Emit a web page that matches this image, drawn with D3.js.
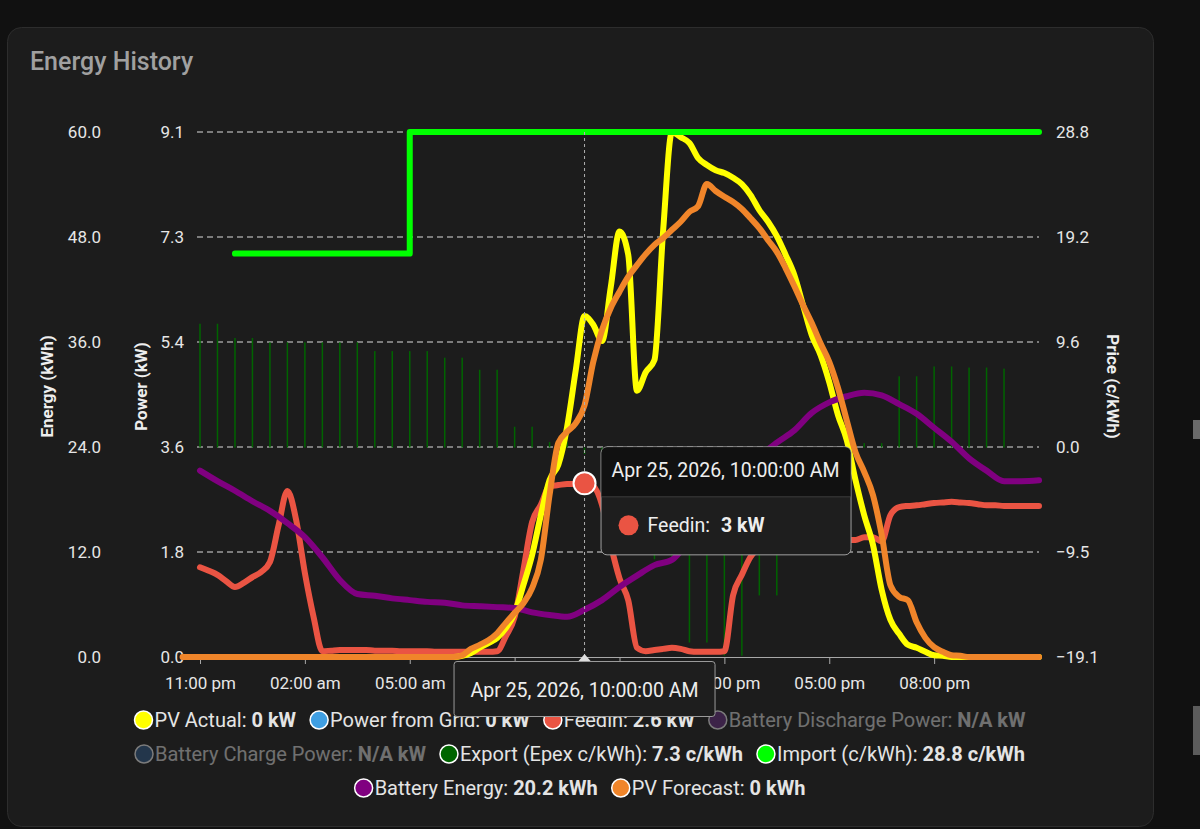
<!DOCTYPE html>
<html>
<head>
<meta charset="utf-8">
<script src="https://cdn.jsdelivr.net/npm/d3@7"></script>
<style>
  body { margin: 0; background: #111111; }
  text { font-family: Roboto, "Noto Sans", sans-serif; }
</style>
</head>
<body>
<svg width="1200" height="829"></svg>
<script>

/*Data. Hours are counted from midnight Apr 25 2026, so -1 is 11:00 pm the evening before.*/

var xTickHours = [-1, 2, 5, 8, 11, 14, 17, 20];

/*PV Actual (kW), every 15 minutes from 06:00 to 21:00*/
var pvActualStart = 6;
var pvActual = [0, 0, 0.02, 0.07, 0.16, 0.24, 0.33, 0.5, 0.76, 1.24, 1.76, 2.45, 3.06, 3.32, 3.97, 4.96,
  5.89, 5.74, 5.46, 6.39, 7.35, 6.95, 4.6, 4.92, 5.13, 7.38, 9.07, 8.98, 8.88, 8.62, 8.5, 8.41,
  8.36, 8.28, 8.17, 7.98, 7.72, 7.52, 7.27, 6.95, 6.6, 6.08, 5.56, 5.22, 4.75, 4.18, 3.75, 3.06,
  2.45, 1.94, 1.16, 0.64, 0.4, 0.21, 0.16, 0.09, 0.03, 0.02, 0, 0, 0];

/*PV Forecast (kW), every 15 minutes from 06:15 to 21:00*/
var pvForecastStart = 6.25;
var pvForecast = [0, 0.03, 0.14, 0.21, 0.29, 0.41, 0.59, 0.76, 0.93, 1.19, 1.68, 2.8, 3.7, 3.89, 4.04,
  4.35, 5.1, 5.65, 6.03, 6.31, 6.57, 6.77, 6.96, 7.12, 7.24, 7.38, 7.52, 7.69, 7.79, 8.17, 8.05,
  7.95, 7.86, 7.74, 7.58, 7.41, 7.2, 7.0, 6.72, 6.41, 6.08, 5.77, 5.42, 5.1, 4.65, 4.09, 3.54,
  3.2, 2.8, 2.11, 1.24, 1.04, 0.98, 0.6, 0.33, 0.17, 0.09, 0.03, 0.02, 0];

/*Feedin (kW), every 15 minutes from 11:00 pm to 11:00 pm*/
var feedinStart = -1;
var feedin = [1.55, 1.49, 1.42, 1.31, 1.21, 1.28, 1.38, 1.47, 1.64, 2.28, 2.87, 2.37, 1.45, 0.69, 0.1, 0.11,
  0.12, 0.12, 0.12, 0.12, 0.11, 0.11, 0.11, 0.1, 0.1, 0.1, 0.1, 0.09, 0.09, 0.09, 0.09, 0.09,
  0.09, 0.09, 0.1, 0.36, 0.69, 1.5, 2.33, 2.63, 2.95, 2.97, 2.99, 2.99, 3.0, 2.95, 2.63, 1.94,
  1.36, 0.98, 0.16, 0.1, 0.12, 0.14, 0.16, 0.14, 0.1, 0.09, 0.09, 0.09, 0.1, 1.07, 1.42, 1.73,
  1.87, 1.9, 1.94, 1.95, 1.96, 1.97, 1.98, 2.0, 2.0, 2.02, 2.02, 2.02, 2.07, 2.07, 2.0, 2.45,
  2.59, 2.61, 2.62, 2.64, 2.66, 2.67, 2.68, 2.67, 2.66, 2.64, 2.62, 2.62, 2.61, 2.61, 2.61, 2.61, 2.61];

/*Battery Energy (kWh), every 30 minutes from 11:00 pm to 11:00 pm*/
var batteryStart = -1;
var batteryEnergy = [21.3, 20.1, 19.0, 17.8, 16.7, 15.3, 13.7, 11.4, 8.8, 7.2, 7.0, 6.7, 6.5, 6.3, 6.2, 5.9,
  5.8, 5.7, 5.6, 5.1, 4.8, 4.6, 5.4, 6.5, 8.0, 9.3, 10.5, 11.1, 13.4, 16.0, 18.6, 20.8,
  22.9, 24.5, 25.9, 27.9, 29.1, 29.8, 30.2, 29.9, 28.9, 27.8, 26.2, 24.6, 22.7, 21.3, 20.1, 20.1, 20.2];

/*Export price (c/kWh), every 30 minutes from 11:00 pm to 10:00 pm*/
var exportStart = -1;
var exportPrice = [11.3, 11.3, 10.0, 10.0, 9.6, 9.6, 9.6, 9.6, 9.6, 9.6, 8.8, 8.8, 8.8, 8.8, 8.2, 8.2,
  7.1, 7.1, 1.9, 1.9, 0.5, 0.5, -0.6, -0.6, -5.0, -5.0, -10.2, -10.2, -17.8, -17.8, -19.0, -19.0,
  -13.5, -13.5, -3.5, -3.5, -1.2, -1.2, 0.4, 0.4, 6.5, 6.5, 7.4, 7.4, 7.3, 7.3, 7.2];

/*Import price (c/kWh), hourly from 00:00 to 23:00*/
var importStart = 0;
var importPrice = [17.7, 17.7, 17.7, 17.7, 17.7, 28.8, 28.8, 28.8, 28.8, 28.8, 28.8, 28.8,
  28.8, 28.8, 28.8, 28.8, 28.8, 28.8, 28.8, 28.8, 28.8, 28.8, 28.8, 28.8];

/*Legend*/
var legendNames = ["PV Actual", "Power from Grid", "Feedin", "Battery Discharge Power", "Battery Charge Power",
  "Export (Epex c/kWh)", "Import (c/kWh)", "Battery Energy", "PV Forecast"];
var legendValues = ["0 kW", "0 kW", "2.6 kW", "N/A kW", "N/A kW", "7.3 c/kWh", "28.8 c/kWh", "20.2 kWh", "0 kWh"];
var legendHidden = [false, false, false, true, true, false, false, false, false];
var legendRows = [[0, 1, 2, 3], [4, 5, 6], [7, 8]];

/*Hovered point*/
var hoverHour = 10, hoverValue = 3;

/*Colours*/
var colors = {
  "PV Actual": "#ffff00", "Power from Grid": "#3f9fe3", "Feedin": "#ea5443",
  "Battery Discharge Power": "#6a2d86", "Battery Charge Power": "#2e5b8c",
  "Export (Epex c/kWh)": "#006400", "Import (c/kWh)": "#00ff00",
  "Battery Energy": "#800080", "PV Forecast": "#f0852a"
};

var svg = d3.select("svg"),
    plot = {left: 200, right: 1039, top: 132, bottom: 657};

function hourToDate(h) {
  return new Date(new Date(2026, 3, 25, 0, 0).getTime() + h * 3600000);
}

function onGrid(start, step, values) {
  return values.map(function(v, i) { return [start + i * step, v]; });
}

/*Card background*/
svg.append("rect").attr("width", 1200).attr("height", 829).attr("fill", "#111111");
svg.append("rect")
    .attr("x", 7.5).attr("y", 27.5).attr("width", 1146).attr("height", 799).attr("rx", 14)
    .attr("fill", "#1c1c1c").attr("stroke", "#2d2d2d");
svg.append("rect").attr("x", 1193).attr("y", 420).attr("width", 7).attr("height", 19).attr("fill", "#6a6a6a");
svg.append("rect").attr("x", 1193).attr("y", 706).attr("width", 7).attr("height", 49).attr("fill", "#5c5c5c");

svg.append("text")
    .attr("x", 30).attr("y", 70)
    .attr("font-size", 25).attr("font-weight", 500).attr("fill", "#a0a0a0")
    .text("Energy History");

/*Scales: one time axis, three value axes*/
var x = d3.scaleTime().domain([hourToDate(-1), hourToDate(23)]).range([plot.left, plot.right]);
var power = d3.scaleLinear().domain([0, 9.07]).range([plot.bottom, plot.top]);
var energy = d3.scaleLinear().domain([0, 60]).range([plot.bottom, plot.top]);
var price = d3.scaleLinear().domain([-19.12, 28.8]).range([plot.bottom, plot.top]);

function fiveSteps(scale) {
  var d = scale.domain();
  return d3.range(6).map(function(i) { return d[0] + i * (d[1] - d[0]) / 5; });
}

/*Grid*/
svg.append("g")
  .selectAll("line")
  .data(fiveSteps(power).slice(1))
  .enter().append("line")
    .attr("x1", plot.left - 3).attr("x2", plot.right)
    .attr("y1", function(d) { return power(d); }).attr("y2", function(d) { return power(d); })
    .attr("stroke", "#dcdcdc").attr("stroke-width", 1).attr("stroke-dasharray", "6,4");

/*Axes*/
var fmt = d3.format(".1f");

function styleAxis(g) {
  g.select(".domain").remove();
  g.selectAll(".tick line").remove();
  g.selectAll(".tick text").attr("fill", "#e6e6e6").attr("font-size", 17).attr("font-family", "Roboto");
}

svg.append("g")
    .attr("transform", "translate(101,0)")
    .call(d3.axisLeft(energy).tickValues(fiveSteps(energy)).tickFormat(fmt).tickSize(0).tickPadding(0))
    .call(styleAxis);

svg.append("g")
    .attr("transform", "translate(184,0)")
    .call(d3.axisLeft(power).tickValues(fiveSteps(power)).tickFormat(fmt).tickSize(0).tickPadding(0))
    .call(styleAxis);

svg.append("g")
    .attr("transform", "translate(1056,0)")
    .call(d3.axisRight(price).tickValues(fiveSteps(price)).tickFormat(fmt).tickSize(0).tickPadding(0))
    .call(styleAxis);

var xAxis = svg.append("g")
    .attr("transform", "translate(0," + plot.bottom + ")")
    .call(d3.axisBottom(x)
      .tickValues(xTickHours.map(hourToDate))
      .tickFormat(function(d) { return d3.timeFormat("%I:%M %p")(d).toLowerCase(); })
      .tickSize(7).tickPadding(13));
xAxis.select(".domain").attr("stroke", "#a8a8a8").attr("d", "M" + plot.left + ",0.5H" + plot.right);
xAxis.selectAll(".tick line").attr("stroke", "#a8a8a8");
xAxis.selectAll(".tick text").attr("fill", "#e6e6e6").attr("font-size", 17).attr("font-family", "Roboto");

function axisTitle(label, cx, angle) {
  svg.append("text")
      .attr("transform", "translate(" + cx + "," + ((plot.top + plot.bottom) / 2 - 8) + ") rotate(" + angle + ")")
      .attr("text-anchor", "middle").attr("dy", "0.35em")
      .attr("font-size", 17).attr("font-weight", "bold").attr("fill", "#eeeeee")
      .text(label);
}
axisTitle("Energy (kWh)", 47, -90);
axisTitle("Power (kW)", 141, -90);
axisTitle("Price (c/kWh)", 1113, 90);

/*Export price as thin bars from zero*/
svg.append("g")
  .selectAll("rect")
  .data(onGrid(exportStart, 0.5, exportPrice))
  .enter().append("rect")
    .attr("x", function(d) { return x(hourToDate(d[0])) - 0.75; })
    .attr("width", 1.5)
    .attr("y", function(d) { return price(Math.max(d[1], 0)); })
    .attr("height", function(d) { return Math.abs(price(d[1]) - price(0)); })
    .attr("fill", colors["Export (Epex c/kWh)"]);

/*Lines*/
function drawLine(points, scale, color, curve) {
  svg.append("path")
      .datum(points)
      .attr("fill", "none")
      .attr("stroke", color)
      .attr("stroke-width", 6)
      .attr("stroke-linejoin", "round")
      .attr("stroke-linecap", "round")
      .attr("d", d3.line()
        .x(function(d) { return x(hourToDate(d[0])); })
        .y(function(d) { return scale(d[1]); })
        .curve(curve || d3.curveMonotoneX));
}

drawLine(onGrid(feedinStart, 0.25, feedin), power, colors["Feedin"]);
drawLine([[-1, 0]].concat(onGrid(pvActualStart, 0.25, pvActual), [[23, 0]]), power, colors["PV Actual"]);
drawLine(onGrid(importStart, 1, importPrice), price, colors["Import (c/kWh)"], d3.curveStepAfter);
drawLine(onGrid(batteryStart, 0.5, batteryEnergy), energy, colors["Battery Energy"]);
drawLine([[-1.5, 0]].concat(onGrid(pvForecastStart, 0.25, pvForecast), [[23, 0]]), power, colors["PV Forecast"]);

/*Legend, three centred rows*/
var legendY = [720, 754, 788];
legendRows.forEach(function(row, r) {
  var g = svg.append("g");
  var cursor = 0;
  row.forEach(function(i) {
    var item = g.append("g").attr("opacity", legendHidden[i] ? 0.42 : 1);
    item.append("circle")
        .attr("cx", cursor + 9).attr("cy", 0).attr("r", 9)
        .attr("fill", colors[legendNames[i]]).attr("stroke", "#ffffff").attr("stroke-width", 1.5);
    var t = item.append("text")
        .attr("x", cursor + 20).attr("dy", "0.35em")
        .attr("font-size", 20).attr("fill", "#e4e4e4");
    t.append("tspan").text(legendNames[i] + ": ");
    t.append("tspan").attr("font-weight", "bold").text(legendValues[i]);
    cursor += 20 + t.node().getComputedTextLength() + 14;
  });
  cursor -= 14;
  g.attr("transform", "translate(" + (580 - cursor / 2) + "," + legendY[r] + ")");
});

/*Hover: crosshair, marker and the two tooltips*/
var hx = x(hourToDate(hoverHour)), hy = power(hoverValue);
var tooltipFormat = d3.timeFormat("%b %-d, %Y, %I:%M:%S %p");

svg.append("line")
    .attr("x1", hx).attr("x2", hx).attr("y1", plot.top).attr("y2", plot.bottom)
    .attr("stroke", "#b0b0b0").attr("stroke-dasharray", "3,3");

svg.append("circle")
    .attr("cx", hx).attr("cy", hy).attr("r", 11)
    .attr("fill", colors["Feedin"]).attr("stroke", "#ffffff").attr("stroke-width", 2);

var tip = svg.append("g").attr("transform", "translate(" + (hx + 16) + "," + (hy - 37) + ")");
tip.append("rect").attr("x", 0.5).attr("y", 0.5).attr("width", 250).attr("height", 108).attr("rx", 6)
    .attr("fill", "#1e1e1e").attr("stroke", "#a0a0a0");
tip.append("path").attr("d", "M1,50V7Q1,1 7,1H244Q250,1 250,7V50Z").attr("fill", "#111111");
tip.append("line").attr("x1", 1).attr("x2", 250).attr("y1", 50.5).attr("y2", 50.5).attr("stroke", "#3a3a3a");
tip.append("text").attr("x", 11).attr("y", 31).attr("font-size", 19.5).attr("fill", "#eeeeee")
    .text(tooltipFormat(hourToDate(hoverHour)));
tip.append("circle").attr("cx", 28).attr("cy", 79).attr("r", 10).attr("fill", colors["Feedin"]);
var tipText = tip.append("text").attr("x", 47).attr("y", 86).attr("font-size", 19.5).attr("fill", "#eeeeee");
tipText.append("tspan").text("Feedin:");
tipText.append("tspan").attr("dx", 11).attr("font-weight", "bold").text(hoverValue + " kW");

var xTip = svg.append("g").attr("transform", "translate(" + hx + "," + (plot.bottom + 4) + ")");
xTip.append("rect").attr("x", -130.5).attr("y", 0.5).attr("width", 261).attr("height", 55).attr("rx", 3)
    .attr("fill", "#1e1e1e").attr("stroke", "#9a9a9a");
xTip.append("path").attr("d", "M-6,0L0,-7L6,0Z").attr("fill", "#dddddd");
xTip.append("text").attr("x", 0).attr("y", 36).attr("text-anchor", "middle")
    .attr("font-size", 19.5).attr("fill", "#eeeeee")
    .text(tooltipFormat(hourToDate(hoverHour)));

</script>
</body>
</html>
